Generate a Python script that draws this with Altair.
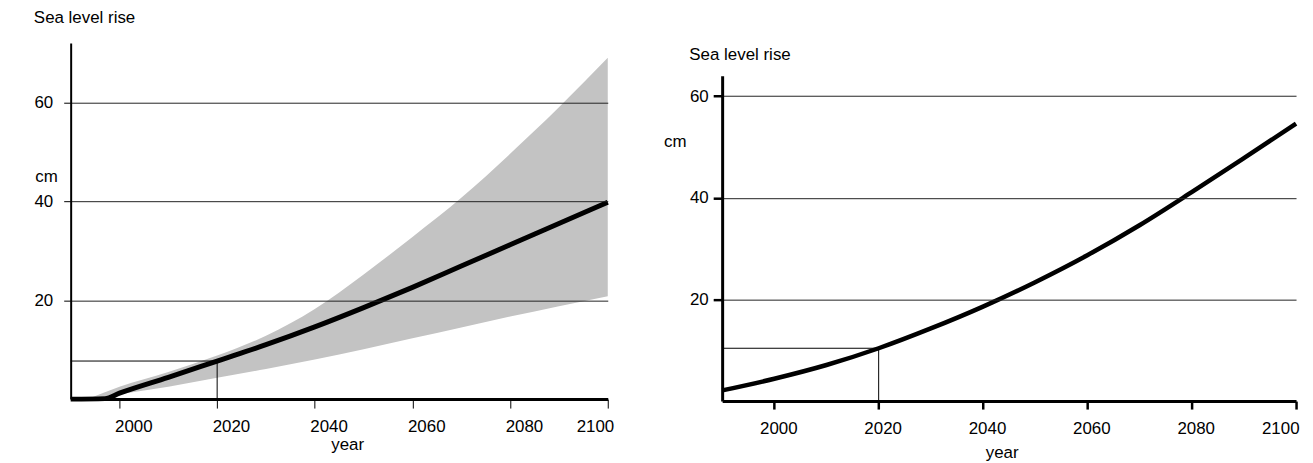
import altair as alt
import pandas as pd

FONT = "Liberation Sans"

# ---- Left panel: projected sea level rise with uncertainty band (cm)
years_a = [1990, 1997, 2000, 2010, 2020, 2030, 2040, 2050, 2060, 2070, 2080, 2090, 2100]
mean_a = [0.0, 0.1, 1.2, 4.4, 7.7, 11.0, 14.6, 18.5, 22.6, 26.9, 31.2, 35.5, 39.8]

band_years = [1993.5, 2000, 2010, 2020, 2030, 2040, 2050, 2060, 2070, 2080, 2090, 2100]
upper_a = [0.0, 2.5, 5.5, 8.8, 12.8, 18.2, 25.2, 32.8, 40.7, 49.6, 59.0, 69.0]
lower_a = [0.0, 1.0, 2.5, 4.3, 6.1, 8.0, 10.1, 12.3, 14.5, 16.7, 18.8, 20.8]

# ---- Right panel: single projection (cm)
years_b = [1990, 2000, 2010, 2020, 2030, 2040, 2050, 2060, 2070, 2080, 2090, 2100]
level_b = [2.1, 4.4, 7.1, 10.4, 14.3, 18.6, 23.4, 28.7, 34.6, 41.1, 47.8, 54.6]

# ---- Reference marker (year 2020)
ref_year = 2020
ref_a = 7.7
ref_b = 10.4
start_year = 1990

x_ticks = [2000, 2020, 2040, 2060, 2080, 2100]
y_ticks = [20, 40, 60]
panel_titles = ["Sea level rise", "Sea level rise"]

mean_df = pd.DataFrame({"year": years_a, "cm": mean_a})
band_df = pd.DataFrame({"year": band_years, "upper": upper_a, "lower": lower_a})
right_df = pd.DataFrame({"year": years_b, "cm": level_b})
ref_a_df = pd.DataFrame({"x0": [start_year], "x1": [ref_year], "y0": [0], "y1": [ref_a]})
ref_b_df = pd.DataFrame({"x0": [start_year], "x1": [ref_year], "y0": [0], "y1": [ref_b]})


def x_axis(tick_w, tick_size, pad, align, off, off_last, tx, ty):
    return alt.Axis(
        values=x_ticks, format="d", title="year", grid=False,
        domainColor="black", domainWidth=3,
        tickColor="black", tickWidth=tick_w, tickSize=tick_size,
        labelFont=FONT, labelFontSize=17, labelColor="black",
        labelAlign={"condition": {"test": "datum.value == 2100", "value": "right"}, "value": align},
        labelOffset={"condition": {"test": "datum.value == 2100", "value": off_last}, "value": off},
        labelPadding=pad, labelBaseline="top", labelFlush=False, labelOverlap=False,
        titleFont=FONT, titleFontSize=17, titleFontWeight="normal", titleColor="black",
        titleX=tx, titleY=ty, titleAlign="center", titleBaseline="alphabetic",
        zindex=1,
    )


def y_axis(dom_w, tick_w, tick_size, pad, tx, ty):
    return alt.Axis(
        values=y_ticks, title="cm", titleAngle=0,
        titleX=tx, titleY=ty, titleAlign="left", titleBaseline="middle",
        titleFont=FONT, titleFontSize=17, titleFontWeight="normal", titleColor="black",
        grid=True, gridColor="#222222", gridWidth=1,
        domainColor="black", domainWidth=dom_w,
        tickColor="black", tickWidth=tick_w, tickSize=tick_size,
        labelFont=FONT, labelFontSize=17, labelColor="black", labelPadding=pad,
        zindex=1,
    )


H_A = 358
H_B = 360
xs_a = alt.Scale(domain=[1990, 2100], nice=False, zero=False)
ys_a = alt.Scale(domain=[0, 72], nice=False)
xs_b = alt.Scale(domain=[1990, 2100], nice=False, zero=False)
# right panel's value axis starts 33px below the top of its plot frame
ys_b = alt.Scale(domain=[0, 64], nice=False, range=[H_B, 33])

xa_axis = x_axis(1, 9, 11, "left", -5, 6, 278, 51)
ya_axis = y_axis(2, 1, 7, 11, -36, 134.5)
xb_axis = x_axis(2.5, 8, 12, "center", 4, 3, 281, 57)
yb_axis = y_axis(3, 2.5, 9, 5, -59, 99)

band = alt.Chart(band_df).mark_area(color="#c3c3c3", interpolate="monotone").encode(
    x=alt.X("year:Q", scale=xs_a, axis=xa_axis),
    y=alt.Y("upper:Q", scale=ys_a, axis=ya_axis),
    y2="lower:Q",
)
mean_line = alt.Chart(mean_df).mark_line(color="black", strokeWidth=5, interpolate="monotone").encode(
    x=alt.X("year:Q", scale=xs_a), y=alt.Y("cm:Q", scale=ys_a)
)
ref_h_a = alt.Chart(ref_a_df).mark_rule(color="black", strokeWidth=1).encode(
    x=alt.X("x0:Q", scale=xs_a), x2="x1:Q", y=alt.Y("y1:Q", scale=ys_a)
)
ref_v_a = alt.Chart(ref_a_df).mark_rule(color="black", strokeWidth=1).encode(
    x=alt.X("x1:Q", scale=xs_a), y=alt.Y("y0:Q", scale=ys_a), y2="y1:Q"
)
left = alt.layer(band, ref_h_a, ref_v_a, mean_line).properties(
    width=540, height=H_A,
    title=alt.TitleParams(
        panel_titles[0], anchor="start", frame="group", dx=-37, offset=3,
        baseline="alphabetic", font=FONT, fontSize=17, fontWeight="normal", color="black",
    ),
)

line_b = alt.Chart(right_df).mark_line(color="black", strokeWidth=4.5, interpolate="monotone").encode(
    x=alt.X("year:Q", scale=xs_b, axis=xb_axis),
    y=alt.Y("cm:Q", scale=ys_b, axis=yb_axis),
)
ref_h_b = alt.Chart(ref_b_df).mark_rule(color="black", strokeWidth=1).encode(
    x=alt.X("x0:Q", scale=xs_b, axis=xb_axis), x2="x1:Q", y=alt.Y("y1:Q", scale=ys_b, axis=yb_axis)
)
ref_v_b = alt.Chart(ref_b_df).mark_rule(color="black", strokeWidth=1).encode(
    x=alt.X("x1:Q", scale=xs_b), y=alt.Y("y0:Q", scale=ys_b), y2="y1:Q"
)
right = alt.layer(ref_h_b, ref_v_b, line_b).properties(
    width=577, height=H_B,
    title=alt.TitleParams(
        panel_titles[1], anchor="start", frame="group", dx=-33, offset=3, dy=37,
        baseline="alphabetic", font=FONT, fontSize=17, fontWeight="normal", color="black",
    ),
)

chart = alt.hconcat(left, right, spacing=46).properties(
    padding={"left": 26, "top": 0, "right": 0, "bottom": 0}
).configure_view(stroke=None)

chart.save("out.html", embed_options={"renderer": "svg", "actions": False})
